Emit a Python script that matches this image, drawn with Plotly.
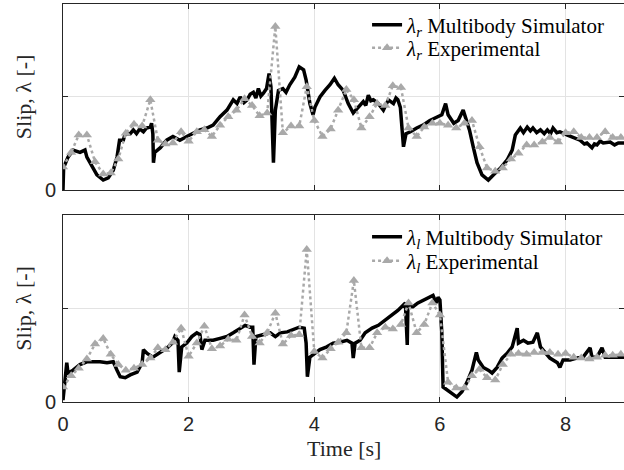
import plotly.graph_objects as go

# ---------------- data ----------------
t_exp = [0.0, 0.13, 0.25, 0.38, 0.51, 0.64, 0.76, 0.88, 1.0, 1.13, 1.26, 1.39, 1.51, 1.63,
         1.75, 1.88, 2.0, 2.13, 2.25, 2.37, 2.5, 2.63, 2.76, 2.89, 3.01, 3.13, 3.25, 3.38,
         3.5, 3.63, 3.76, 3.88, 4.0, 4.13, 4.26, 4.38, 4.51, 4.63, 4.75, 4.88, 5.0, 5.13,
         5.25, 5.38, 5.5, 5.63, 5.75, 5.88, 6.0, 6.13, 6.26, 6.39, 6.51, 6.63, 6.75, 6.88,
         7.0, 7.13, 7.25, 7.38, 7.5, 7.63, 7.75, 7.88, 8.0, 8.13, 8.25, 8.38, 8.5, 8.63,
         8.75, 8.88]

exp_r = [0.0245, 0.040, 0.0585, 0.0585, 0.030, 0.017, 0.018, 0.033, 0.0605, 0.070, 0.068,
         0.096, 0.053, 0.049, 0.050, 0.062, 0.052, 0.062, 0.064, 0.057, 0.069, 0.078, 0.085,
         0.097, 0.090, 0.079, 0.082, 0.174, 0.061, 0.068, 0.068, 0.110, 0.074, 0.057, 0.065,
         0.085, 0.107, 0.096, 0.066, 0.078, 0.092, 0.090, 0.111, 0.109, 0.066, 0.057, 0.067,
         0.071, 0.071, 0.069, 0.066, 0.071, 0.074, 0.046, 0.0235, 0.020, 0.0235, 0.033, 0.039,
         0.048, 0.048, 0.051, 0.056, 0.051, 0.061, 0.062, 0.056, 0.056, 0.056, 0.062, 0.056,
         0.056]

exp_l = [0.016, 0.028, 0.036, 0.046, 0.062, 0.068, 0.051, 0.040, 0.034, 0.036, 0.040, 0.047,
         0.058, 0.056, 0.064, 0.079, 0.049, 0.063, 0.081, 0.057, 0.060, 0.067, 0.066, 0.093,
         0.070, 0.063, 0.074, 0.095, 0.062, 0.071, 0.072, 0.163, 0.054, 0.047, 0.057, 0.064,
         0.074, 0.130, 0.058, 0.058, 0.074, 0.080, 0.078, 0.083, 0.106, 0.074, 0.083, 0.106,
         0.093, 0.021, 0.015, 0.015, 0.028, 0.035, 0.026, 0.0235, 0.040, 0.051, 0.052, 0.051,
         0.053, 0.053, 0.053, 0.051, 0.052, 0.048, 0.047, 0.046, 0.048, 0.050, 0.050, 0.051]

t_sim_r = [0.0, 0.01, 0.08, 0.16, 0.27, 0.35, 0.38, 0.46, 0.54, 0.64, 0.72, 0.8, 0.86, 0.9,
           0.96, 0.99, 1.07, 1.12, 1.17, 1.22, 1.28, 1.33, 1.39, 1.41, 1.43, 1.44, 1.46, 1.55,
           1.65, 1.75, 1.86, 1.97, 2.07, 2.18, 2.29, 2.39, 2.5, 2.61, 2.71, 2.77, 2.82, 2.88,
           2.93, 2.98, 3.03, 3.07, 3.11, 3.15, 3.19, 3.24, 3.28, 3.31, 3.35, 3.38, 3.43, 3.5,
           3.55, 3.61, 3.69, 3.76, 3.83, 3.87, 3.93, 3.98, 4.01, 4.09, 4.17, 4.25, 4.32, 4.38,
           4.46, 4.54, 4.62, 4.70, 4.78, 4.82, 4.86, 4.9, 4.94, 5.02, 5.1, 5.18, 5.26, 5.3,
           5.33, 5.37, 5.40, 5.42, 5.46, 5.53, 5.63, 5.73, 5.84, 5.95, 6.03, 6.09, 6.13, 6.22,
           6.29, 6.37, 6.43, 6.47, 6.53, 6.59, 6.67, 6.77, 6.85, 6.96, 7.07, 7.15, 7.2, 7.24,
           7.28, 7.33, 7.39, 7.44, 7.48, 7.54, 7.6, 7.66, 7.71, 7.76, 7.8, 7.86, 7.91, 8.03,
           8.12, 8.23, 8.3, 8.34, 8.42, 8.46, 8.5, 8.55, 8.6, 8.71, 8.78, 8.84, 8.93]
sim_r = [0.0, 0.024, 0.035, 0.0425, 0.040, 0.0425, 0.035, 0.0245, 0.016, 0.0106, 0.0128, 0.021,
         0.035, 0.053, 0.053, 0.060, 0.060, 0.064, 0.060, 0.065, 0.062, 0.066, 0.067, 0.071,
         0.060, 0.029, 0.040, 0.045, 0.053, 0.057, 0.053, 0.057, 0.060, 0.064, 0.066, 0.069,
         0.078, 0.085, 0.096, 0.092, 0.099, 0.093, 0.096, 0.102, 0.104, 0.098, 0.108, 0.100,
         0.103, 0.108, 0.124, 0.110, 0.029, 0.085, 0.106, 0.108, 0.104, 0.112, 0.120, 0.131,
         0.128, 0.117, 0.092, 0.080, 0.088, 0.099, 0.106, 0.112, 0.119, 0.112, 0.106, 0.092,
         0.082, 0.088, 0.094, 0.090, 0.101, 0.095, 0.096, 0.092, 0.085, 0.096, 0.092, 0.098,
         0.096, 0.088, 0.067, 0.046, 0.060, 0.062, 0.066, 0.069, 0.074, 0.078, 0.080, 0.092,
         0.080, 0.071, 0.074, 0.085, 0.071, 0.064, 0.046, 0.029, 0.016, 0.0106, 0.016, 0.023,
         0.032, 0.0425, 0.0585, 0.062, 0.066, 0.061, 0.067, 0.063, 0.066, 0.061, 0.064, 0.060,
         0.064, 0.060, 0.066, 0.061, 0.062, 0.0585, 0.056, 0.053, 0.049, 0.050, 0.045, 0.049,
         0.048, 0.052, 0.050, 0.051, 0.048, 0.050, 0.050]

t_sim_l = [0.0, 0.03, 0.06, 0.08, 0.16, 0.27, 0.38, 0.48, 0.59, 0.7, 0.8, 0.86, 0.91, 0.99,
           1.07, 1.18, 1.26, 1.28, 1.34, 1.43, 1.55, 1.66, 1.74, 1.78, 1.83, 1.85, 1.89, 1.97,
           2.05, 2.13, 2.18, 2.21, 2.26, 2.39, 2.5, 2.61, 2.71, 2.82, 2.9, 2.98, 3.02, 3.04,
           3.07, 3.18, 3.3, 3.38, 3.46, 3.57, 3.66, 3.76, 3.84, 3.87, 3.89, 3.93, 4.01, 4.09,
           4.2, 4.3, 4.41, 4.52, 4.6, 4.62, 4.65, 4.73, 4.81, 4.92, 5.02, 5.13, 5.24, 5.33,
           5.45, 5.48, 5.49, 5.57, 5.65, 5.73, 5.81, 5.89, 5.94, 5.97, 6.0, 6.03, 6.05, 6.11,
           6.19, 6.27, 6.35, 6.43, 6.51, 6.58, 6.61, 6.69, 6.77, 6.83, 6.91, 6.99, 7.07, 7.15,
           7.23, 7.25, 7.33, 7.4, 7.48, 7.55, 7.6, 7.68, 7.75, 7.87, 7.91, 7.96, 8.07, 8.18,
           8.28, 8.39, 8.42, 8.5, 8.58, 8.63, 8.74, 8.84, 8.93]
sim_l = [0.002, 0.025, 0.042, 0.031, 0.034, 0.040, 0.043, 0.043, 0.043, 0.042, 0.043, 0.034,
         0.027, 0.026, 0.029, 0.032, 0.042, 0.056, 0.052, 0.048, 0.053, 0.058, 0.063, 0.070,
         0.066, 0.032, 0.059, 0.063, 0.070, 0.074, 0.072, 0.056, 0.066, 0.066, 0.068, 0.070,
         0.074, 0.079, 0.082, 0.080, 0.080, 0.040, 0.070, 0.072, 0.074, 0.070, 0.074, 0.075,
         0.077, 0.080, 0.079, 0.063, 0.027, 0.048, 0.052, 0.056, 0.059, 0.063, 0.064, 0.066,
         0.063, 0.047, 0.063, 0.066, 0.074, 0.079, 0.082, 0.088, 0.093, 0.098, 0.106, 0.061,
         0.102, 0.102, 0.106, 0.109, 0.112, 0.114, 0.106, 0.112, 0.109, 0.074, 0.016, 0.013,
         0.0096, 0.0053, 0.011, 0.021, 0.034, 0.053, 0.045, 0.037, 0.034, 0.031, 0.037, 0.047,
         0.052, 0.059, 0.079, 0.063, 0.066, 0.063, 0.064, 0.074, 0.059, 0.052, 0.047, 0.042,
         0.037, 0.045, 0.045, 0.047, 0.048, 0.058, 0.048, 0.048, 0.058, 0.048, 0.048, 0.048,
         0.048]

x_ticks = [0, 2, 4, 6, 8]
y_ticks = [0, 0.1]
y_ticktext = ["0", ""]

# ---------------- figure ----------------
SIM_COLOR = "#000000"
EXP_COLOR = "#a9a9a9"
SERIF = "Liberation Serif, DejaVu Serif, serif"
SANS = "Liberation Sans, Arial, sans-serif"

fig = go.Figure()

fig.add_trace(go.Scatter(x=t_sim_r, y=sim_r, mode="lines", xaxis="x", yaxis="y",
                         line=dict(color=SIM_COLOR, width=3.5),
                         name="<i>λ<sub>r</sub></i> Multibody Simulator", legend="legend"))
fig.add_trace(go.Scatter(x=t_exp, y=exp_r, mode="lines+markers", xaxis="x", yaxis="y",
                         line=dict(color=EXP_COLOR, width=2.5, dash="dot"),
                         marker=dict(symbol="triangle-up", size=9, color=EXP_COLOR),
                         name="<i>λ<sub>r</sub></i> Experimental", legend="legend2"))
fig.add_trace(go.Scatter(x=t_sim_l, y=sim_l, mode="lines", xaxis="x2", yaxis="y2",
                         line=dict(color=SIM_COLOR, width=3.5),
                         name="<i>λ<sub>l</sub></i> Multibody Simulator", legend="legend3"))
fig.add_trace(go.Scatter(x=t_exp, y=exp_l, mode="lines+markers", xaxis="x2", yaxis="y2",
                         line=dict(color=EXP_COLOR, width=2.5, dash="dot"),
                         marker=dict(symbol="triangle-up", size=9, color=EXP_COLOR),
                         name="<i>λ<sub>l</sub></i> Experimental", legend="legend4"))

axis_common = dict(showline=True, linecolor="#262626", linewidth=1, mirror="ticks",
                   ticks="inside", ticklen=5, tickcolor="#262626",
                   showgrid=True, gridcolor="#e3e3e3", gridwidth=1, zeroline=False,
                   tickfont=dict(family=SANS, size=20, color="#262626"))

def leg(ypix):
    return dict(x=0.542, y=(402 - ypix) / 398, xanchor="left", yanchor="middle",
                bgcolor="rgba(0,0,0,0)", borderwidth=0,
                font=dict(family=SERIF, size=21, color="#000"))

XR = [0, 8.93]
fig.update_layout(
    width=624, height=470,
    margin=dict(l=63, r=0, t=4, b=68),
    paper_bgcolor="white", plot_bgcolor="white",
    xaxis=dict(domain=[0, 1], range=XR, anchor="y", tickvals=x_ticks,
               showticklabels=False, **axis_common),
    yaxis=dict(domain=[0.5327, 1.0], range=[0, 0.198], anchor="x", tickvals=y_ticks,
               ticktext=y_ticktext, ticklabelstandoff=2, **axis_common),
    xaxis2=dict(domain=[0, 1], range=XR, anchor="y2", tickvals=x_ticks,
                ticklabelstandoff=4, **axis_common),
    yaxis2=dict(domain=[0.0, 0.4698], range=[0, 0.2], anchor="x2", tickvals=y_ticks,
                ticktext=y_ticktext, ticklabelstandoff=2, **axis_common),
    legend=leg(25), legend2=leg(48), legend3=leg(237), legend4=leg(261),
    showlegend=True,
)

fig.add_annotation(text="Slip, λ [-]", xref="paper", yref="paper", x=-0.071, y=0.7663,
                   textangle=-90, showarrow=False, xanchor="center", yanchor="middle",
                   font=dict(family=SERIF, size=22, color="#262626"))
fig.add_annotation(text="Slip, λ [-]", xref="paper", yref="paper", x=-0.071, y=0.2349,
                   textangle=-90, showarrow=False, xanchor="center", yanchor="middle",
                   font=dict(family=SERIF, size=22, color="#262626"))
fig.add_annotation(text="Time [s]", xref="paper", yref="paper", x=0.501, y=-0.118,
                   showarrow=False, xanchor="center", yanchor="middle",
                   font=dict(family=SERIF, size=22, color="#262626"))

fig.write_html("out.html")
